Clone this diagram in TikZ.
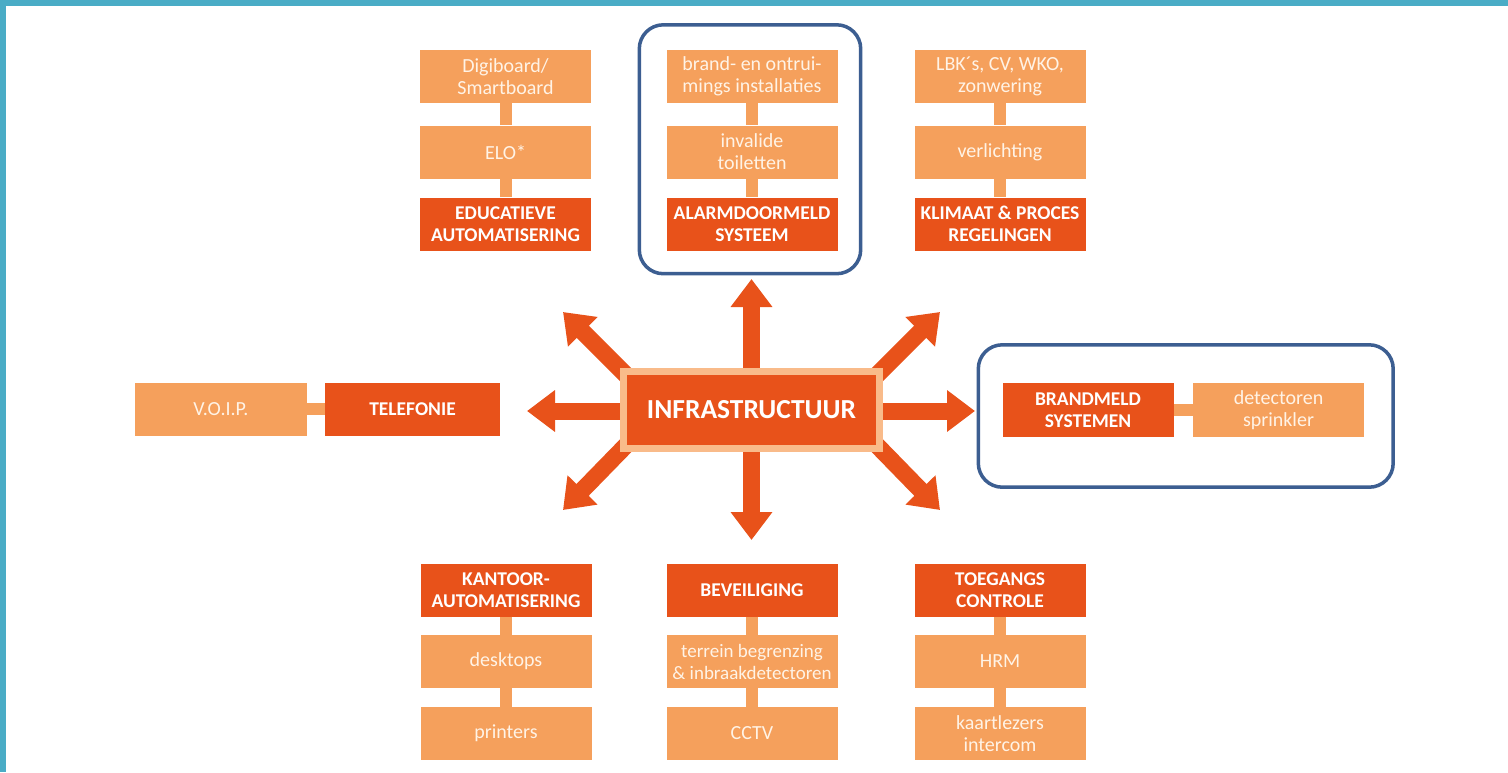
\documentclass[tikz,border=0pt]{standalone}
\usepackage{fontspec}
\setmainfont{Carlito}
\usetikzlibrary{arrows.meta}
\definecolor{dk}{RGB}{232,82,26}
\definecolor{lt}{RGB}{245,160,92}
\definecolor{ltb}{RGB}{249,187,138}
\definecolor{txtl}{RGB}{255,243,230}
\definecolor{framec}{RGB}{60,94,145}
\definecolor{tealc}{RGB}{74,172,198}
\begin{document}
\begin{tikzpicture}[x=1pt,y=-1pt,
  lbox/.style={fill=lt, text=txtl, minimum width=171pt, minimum height=53pt, inner sep=0pt, align=center, font=\fontsize{20}{22}\selectfont},
  dbox/.style={fill=dk, text=white, minimum width=171pt, minimum height=53pt, inner sep=0pt, align=center, font=\bfseries\fontsize{19.5}{22.5}\selectfont},
  conn/.style={draw=lt, line width=12pt},
  bigarrow/.style={draw=dk, line width=17pt, -{Triangle[width=40pt,length=28pt]}},
  grp/.style={draw=framec, line width=3.5pt, rounded corners=24pt},
  centre/.style={fill=dk, draw=ltb, line width=7pt, minimum width=256pt, minimum height=77pt, text=white, font=\bfseries\fontsize{27.5}{30}\selectfont},
]
\useasboundingbox (0,0) rectangle (1508,772);
\fill[white] (0,0) rectangle (1508,772);
% page border
\fill[tealc] (0,0) rectangle (1508,6);
\fill[tealc] (0,0) rectangle (6,772);

% centre node position
\coordinate (infc) at (751.5,410);
\node[centre, draw=none, fill=none, text=dk!0] (inf) at (infc) {\phantom{INFRASTRUCTUUR}};

% arrow tips and diagonal starts
\coordinate (tN) at (751.5,279);
\coordinate (tS) at (751.5,540);
\coordinate (tW) at (527,411);
\coordinate (tE) at (975,411);
\coordinate (tNW) at (563,312);
\coordinate (tNE) at (940,312);
\coordinate (tSW) at (563,510);
\coordinate (tSE) at (940,510);
\coordinate (sNW) at (640,389);
\coordinate (sNE) at (863,389);
\coordinate (sSW) at (640,431);
\coordinate (sSE) at (863,431);

\draw[bigarrow] (sNW) -- (tNW);
\draw[bigarrow] (sNE) -- (tNE);
\draw[bigarrow] (sSW) -- (tSW);
\draw[bigarrow] (sSE) -- (tSE);
\draw[bigarrow] (inf.north) -- (tN);
\draw[bigarrow] (inf.south) -- (tS);
\draw[bigarrow] ([yshift=-1pt]inf.west) -- (tW);
\draw[bigarrow] ([yshift=-1pt]inf.east) -- (tE);
% centre box on top of arrow ends
\node[centre] (infbox) at (infc) {INFRASTRUCTUUR};

% top-left column
\node[lbox] (digi) at (505.5,76.5) {Digiboard/\\Smartboard};
\node[lbox] (elo) at (505.5,152) {ELO*};
\node[dbox] (edu) at (505.5,224) {EDUCATIEVE\\AUTOMATISERING};
\draw[conn] (digi) -- (elo);
\draw[conn] (elo) -- (edu);

% top-middle column
\node[lbox] (brand) at (752,76.5) {brand- en ontrui-\\mings installaties};
\node[lbox] (inval) at (752,152) {invalide\\toiletten};
\node[dbox] (alarm) at (752,224) {ALARMDOORMELD\\SYSTEEM};
\draw[conn] (brand) -- (inval);
\draw[conn] (inval) -- (alarm);
\draw[grp] ([xshift=-27pt,yshift=25pt]brand.north west) rectangle ([xshift=23pt,yshift=-23pt]alarm.south east);

% top-right column
\node[lbox] (lbk) at (1000,76.5) {LBK´s, CV, WKO,\\zonwering};
\node[lbox] (verl) at (1000,152) {verlichting};
\node[dbox] (klim) at (1000,224) {KLIMAAT \& PROCES\\REGELINGEN};
\draw[conn] (lbk) -- (verl);
\draw[conn] (verl) -- (klim);

% left row
\node[lbox, minimum width=172pt] (voip) at (221,409) {V.O.I.P.};
\node[dbox, minimum width=175pt] (tel) at (412.5,409) {TELEFONIE};
\draw[conn] (voip) -- (tel);

% right row
\node[dbox, minimum height=54pt] (bms) at (1088,410) {BRANDMELD\\SYSTEMEN};
\node[lbox, minimum height=54pt] (det) at (1278.5,410) {detectoren\\sprinkler};
\draw[conn] (bms) -- (det);
\draw[grp] ([xshift=-24pt,yshift=38pt]bms.north west) rectangle ([xshift=29pt,yshift=-50pt]det.south east);

% bottom-left column
\node[dbox] (kant) at (506,590) {KANTOOR-\\AUTOMATISERING};
\node[lbox] (desk) at (506,661.5) {desktops};
\node[lbox] (print) at (506,733.5) {printers};
\draw[conn] (kant) -- (desk);
\draw[conn] (desk) -- (print);

% bottom-middle column
\node[dbox] (bev) at (752,590) {BEVEILIGING};
\node[lbox, font=\fontsize{19}{22}\selectfont] (terr) at (752,661.5) {terrein begrenzing\\\& inbraakdetectoren};
\node[lbox] (cctv) at (752,733.5) {CCTV};
\draw[conn] (bev) -- (terr);
\draw[conn] (terr) -- (cctv);

% bottom-right column
\node[dbox] (toeg) at (1000,590) {TOEGANGS\\CONTROLE};
\node[lbox] (hrm) at (1000,661.5) {HRM};
\node[lbox] (kaart) at (1000,733.5) {kaartlezers\\intercom};
\draw[conn] (toeg) -- (hrm);
\draw[conn] (hrm) -- (kaart);
\end{tikzpicture}
\end{document}
